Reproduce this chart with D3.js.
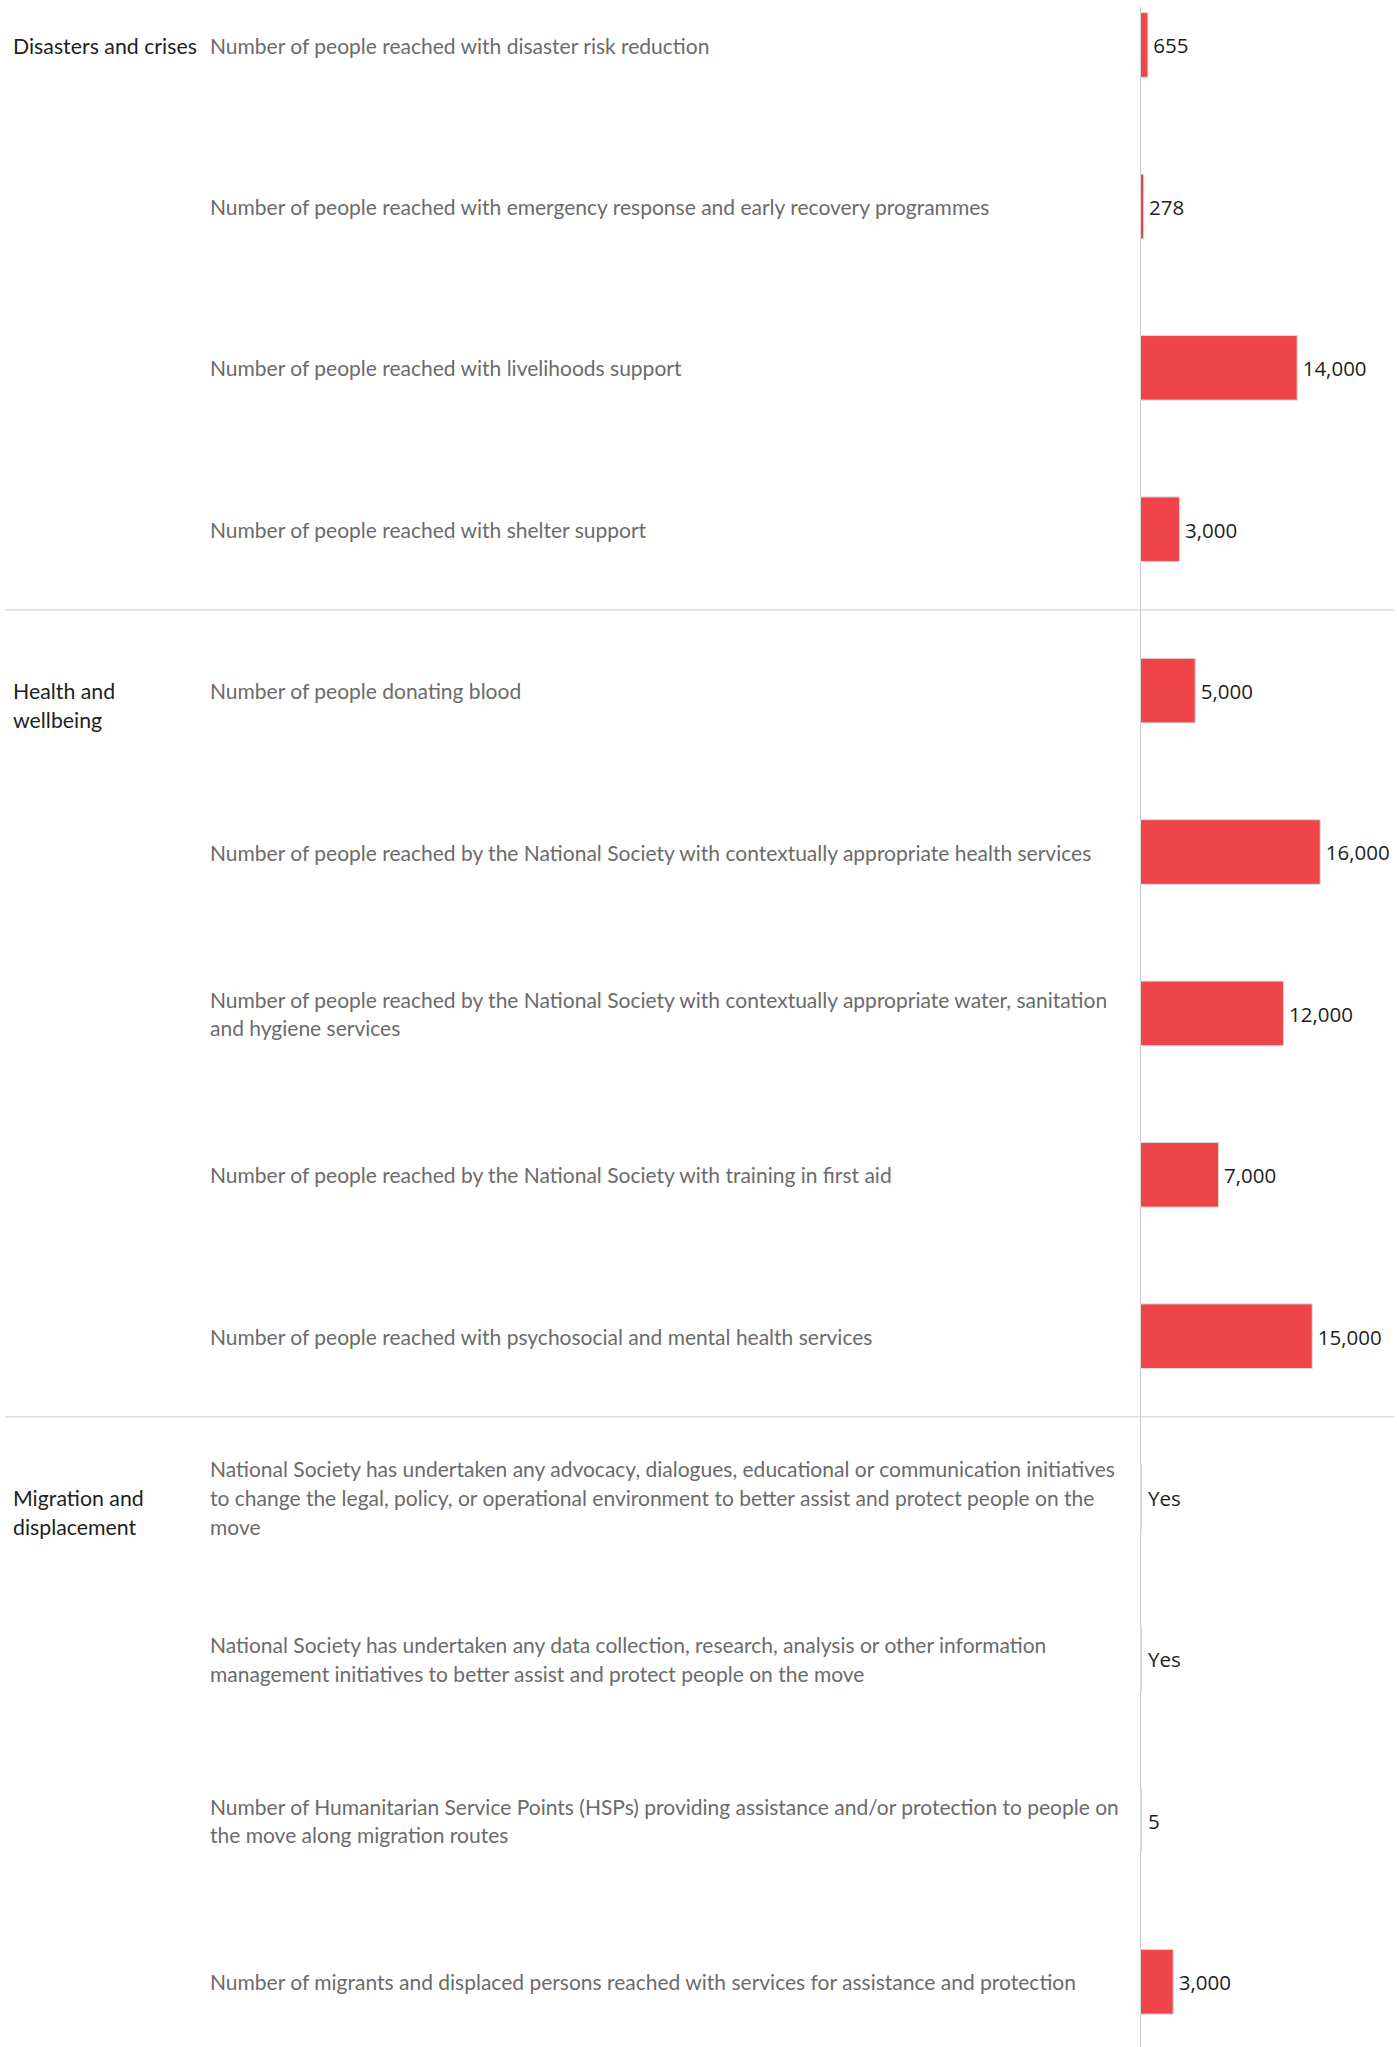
<!DOCTYPE html>
<html>
<head>
<meta charset="utf-8">
<script src="https://cdn.jsdelivr.net/npm/d3@7"></script>
<style>
  body { margin: 0; background: #fff; }
  svg { display: block; }
</style>
</head>
<body>
<svg id="chart" width="1397" height="2047"></svg>
<script>
// group names (split where the reference wraps them)
const categories = [
    ["Disasters and crises"],
    ["Health and", "wellbeing"],
    ["Migration and", "displacement"]
];

// which group each row belongs to
const rowCategory = [0, 0, 0, 0, 1, 1, 1, 1, 1, 2, 2, 2, 2];

// indicator text, one entry per row, lines as wrapped in the reference
const indicators = [
    ["Number of people reached with disaster risk reduction"],
    ["Number of people reached with emergency response and early recovery programmes"],
    ["Number of people reached with livelihoods support"],
    ["Number of people reached with shelter support"],
    ["Number of people donating blood"],
    ["Number of people reached by the National Society with contextually appropriate health services"],
    ["Number of people reached by the National Society with contextually appropriate water, sanitation",
     "and hygiene services"],
    ["Number of people reached by the National Society with training in first aid"],
    ["Number of people reached with psychosocial and mental health services"],
    ["National Society has undertaken any advocacy, dialogues, educational or communication initiatives",
     "to change the legal, policy, or operational environment to better assist and protect people on the",
     "move"],
    ["National Society has undertaken any data collection, research, analysis or other information",
     "management initiatives to better assist and protect people on the move"],
    ["Number of Humanitarian Service Points (HSPs) providing assistance and/or protection to people on",
     "the move along migration routes"],
    ["Number of migrants and displaced persons reached with services for assistance and protection"]
];

// bar lengths (yes/no rows have no bar)
const values = [655, 278, 13950, 3470, 4870, 16000, 12730, 6950, 15290, 0, 0, 5, 2910];

// the labels printed next to the bars
const valueLabels = ["655", "278", "14,000", "3,000", "5,000", "16,000", "12,000", "7,000", "15,000",
                     "Yes", "Yes", "5", "3,000"];

const width = 1397, height = 2047;
const svg = d3.select('#chart');

const rows = d3.range(values.length);

const xScale = d3.scaleLinear()
    .domain([0, 16000])
    .range([1140.5, 1320.2]);

const yScale = d3.scaleBand()
    .domain(rows)
    .range([-35.7, -35.7 + 161.4 * rows.length])
    .paddingInner(0.6)
    .paddingOuter(0.3);

const step = yScale.step();
const mid = i => yScale(i) + yScale.bandwidth() / 2;

// separators between the groups
const breaks = rows.filter(i => i > 0 && rowCategory[i] !== rowCategory[i - 1]);
svg.selectAll('.sep')
    .data(breaks)
    .join('line')
    .attr('class', 'sep')
    .attr('x1', 5).attr('x2', 1394)
    .attr('y1', i => mid(i) - step / 2)
    .attr('y2', i => mid(i) - step / 2)
    .attr('stroke', '#d6d6d6')
    .attr('stroke-width', 1.2);

// zero line
svg.append('line')
    .attr('x1', xScale(0)).attr('x2', xScale(0))
    .attr('y1', 7).attr('y2', height)
    .attr('stroke', '#cbcbcb')
    .attr('stroke-width', 1);

// group labels, first line level with the group's first row
const firstRows = categories.map((c, k) => rowCategory.indexOf(k));
const lineH = 28.7;

svg.selectAll('.cat')
    .data(categories)
    .join('text')
    .attr('class', 'cat')
    .attr('x', 13)
    .attr('y', (c, k) => mid(firstRows[k]) + 8.5)
    .style('font-family', 'Lato, sans-serif')
    .style('font-size', '21.3px')
    .style('fill', '#1e1e1e')
    .selectAll('tspan')
    .data(c => c)
    .join('tspan')
    .attr('x', 13)
    .attr('dy', (d, j) => j === 0 ? 0 : lineH)
    .text(d => d);

// indicator labels, centred on the row
svg.selectAll('.ind')
    .data(rows)
    .join('text')
    .attr('class', 'ind')
    .attr('x', 210)
    .attr('y', i => mid(i) - (indicators[i].length - 1) * lineH / 2 + 8.5)
    .style('font-family', 'Lato, sans-serif')
    .style('font-size', '21px')
    .style('fill', '#6b6b6b')
    .selectAll('tspan')
    .data(i => indicators[i])
    .join('tspan')
    .attr('x', 210)
    .attr('dy', (d, j) => j === 0 ? 0 : lineH)
    .text(d => d);

// bars; the ones too thin to show red only keep their grey outline
const barW = i => xScale(values[i]) - xScale(0);
svg.selectAll('.bar')
    .data(rows)
    .join('rect')
    .attr('class', 'bar')
    .attr('x', xScale(0))
    .attr('y', i => yScale(i))
    .attr('width', i => Math.max(barW(i), 1))
    .attr('height', yScale.bandwidth())
    .attr('fill', i => barW(i) < 1 ? '#d9d9d9' : '#ef444a')
    .attr('stroke', '#d9d9d9')
    .attr('stroke-width', 1);

// value labels
svg.selectAll('.val')
    .data(rows)
    .join('text')
    .attr('class', 'val')
    .attr('x', i => xScale(values[i]) + (values[i] > 100 ? 5.5 : 7.5))
    .attr('y', i => mid(i) + 8.3)
    .style('font-family', '"Open Sans", sans-serif')
    .style('font-size', '20.5px')
    .style('fill', '#1e1e1e')
    .text(i => valueLabels[i]);
</script>
</body>
</html>
